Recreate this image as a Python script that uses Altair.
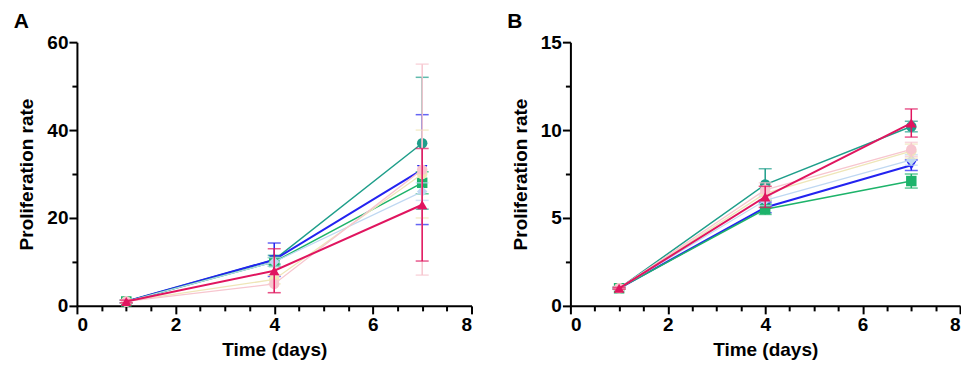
import altair as alt
import pandas as pd

days = [1, 4, 7]
series = ["Teal", "Blue", "Green", "LightBlue", "Yellow", "Peach", "Crimson"]
colors = ["#1E9E8A", "#2323F0", "#1DB36A", "#A9CBEF", "#E6D98C", "#F6B07E", "#E0155F"]
err_colors = ["#1E9E8A", "#2323F0", "#1DB36A", "#BFD8F2", "#EFE6B8", "#F7C6CF", "#E0155F"]
shapes = ["circle", "triangle-down", "square", "diamond", "circle", "circle", "triangle-up"]
widths = [1.5, 2, 1.5, 1.2, 1.3, 1.3, 2]

a_mean = {
    "Teal": [1.0, 10.5, 37.0],
    "Blue": [1.0, 10.5, 31.0],
    "Green": [1.0, 10.0, 28.0],
    "LightBlue": [1.0, 10.0, 26.0],
    "Yellow": [1.0, 6.0, 30.0],
    "Peach": [1.0, 5.0, 31.0],
    "Crimson": [1.0, 8.0, 23.0],
}
a_err = {
    "Teal": [0.3, 1.0, 15.0],
    "Blue": [0.3, 3.8, 12.5],
    "Green": [0.3, 1.0, 2.5],
    "LightBlue": [0.3, 1.0, 2.0],
    "Yellow": [0.3, 1.0, 10.0],
    "Peach": [0.3, 2.0, 24.0],
    "Crimson": [0.3, 5.0, 12.8],
}
b_mean = {
    "Teal": [1.0, 6.9, 10.2],
    "Blue": [1.0, 5.6, 8.0],
    "Green": [1.0, 5.5, 7.1],
    "LightBlue": [1.0, 6.0, 8.3],
    "Yellow": [1.0, 6.4, 8.8],
    "Peach": [1.0, 6.6, 8.9],
    "Crimson": [1.0, 6.2, 10.4],
}
b_err = {
    "Teal": [0.05, 0.9, 0.3],
    "Blue": [0.05, 0.3, 0.3],
    "Green": [0.05, 0.3, 0.4],
    "LightBlue": [0.05, 0.3, 0.3],
    "Yellow": [0.05, 0.4, 0.4],
    "Peach": [0.05, 0.4, 0.4],
    "Crimson": [0.05, 0.6, 0.8],
}

x_major = [0, 2, 4, 6, 8]
x_minor = [0.5, 1, 1.5, 2.5, 3, 3.5, 4.5, 5, 5.5, 6.5, 7, 7.5]
a_y_major = [0, 20, 40, 60]
a_y_minor = [10, 30, 50]
b_y_major = [0, 5, 10, 15]
b_y_minor = [2.5, 7.5, 12.5]


def make_df(means, errs):
    rows = []
    for i, s in enumerate(series):
        for d, m, e in zip(days, means[s], errs[s]):
            rows.append({"series": s, "order": i, "day": d, "mean": m,
                         "lo": m - e, "hi": m + e})
    return pd.DataFrame(rows)


FONT = "Liberation Sans"


def panel(df, ymax, y_major, y_minor, letter, w):
    xs = alt.Scale(domain=[0, 8], nice=False)
    ys = alt.Scale(domain=[0, ymax], nice=False)
    common = dict(ticks=True, tickColor="black", tickWidth=2, tickOpacity=1)
    xmaj = alt.Axis(values=x_major, title="Time (days)", tickSize=8, orient="bottom",
                    labelPadding=2, titlePadding=6, labelOverlap=False, **common)
    ymaj = alt.Axis(values=y_major, title="Proliferation rate", tickSize=8, orient="left",
                    labelPadding=1, titlePadding=10, labelOverlap=False, **common)
    xmin = alt.Axis(values=x_minor, title=None, labels=False, domain=False, tickSize=5,
                    orient="bottom", **common)
    ymin = alt.Axis(values=y_minor, title=None, labels=False, domain=False, tickSize=5,
                    orient="left", **common)
    color = alt.Color("series:N", scale=alt.Scale(domain=series, range=colors), legend=None)
    ecolor = alt.Color("series:N", scale=alt.Scale(domain=series, range=err_colors), legend=None)
    shape = alt.Shape("series:N", scale=alt.Scale(domain=series, range=shapes), legend=None)
    base = alt.Chart(df)
    X = lambda f: alt.X(f, scale=xs, axis=xmaj)
    Y = lambda f: alt.Y(f, scale=ys, axis=ymaj)
    layers = []
    for i, s in enumerate(series):
        sub = base.transform_filter(alt.datum.series == s)
        rule = sub.mark_rule(strokeWidth=1.5).encode(
            x=X("day:Q"), y=Y("lo:Q"), y2="hi:Q", color=ecolor)
        cap_hi = sub.mark_tick(orient="horizontal", size=13, thickness=1.5).encode(
            x=X("day:Q"), y=Y("hi:Q"), color=ecolor)
        cap_lo = sub.mark_tick(orient="horizontal", size=13, thickness=1.5).encode(
            x=X("day:Q"), y=Y("lo:Q"), color=ecolor)
        line = sub.mark_line(strokeWidth=widths[i]).encode(
            x=X("day:Q"), y=Y("mean:Q"), color=color)
        pts = sub.mark_point(filled=True, size=110, opacity=1).encode(
            x=X("day:Q"), y=Y("mean:Q"), color=color, shape=shape)
        layers += [rule, cap_hi, cap_lo, line, pts]
    main = alt.layer(*layers)
    minor = base.mark_point(opacity=0).encode(
        x=alt.X("day:Q", scale=xs, axis=xmin), y=alt.Y("mean:Q", scale=ys, axis=ymin))
    return alt.layer(minor, main).resolve_axis(x="independent", y="independent").properties(
        width=w, height=264,
        title=alt.TitleParams(letter, anchor="start", frame="bounds", fontSize=21,
                              fontWeight="bold", font=FONT, dx=-4, offset=1))


dfa = make_df(a_mean, a_err)
dfb = make_df(b_mean, b_err)

chart = alt.hconcat(
    panel(dfa, 60, a_y_major, a_y_minor, "A", 395),
    panel(dfb, 15, b_y_major, b_y_minor, "B", 390),
    spacing=34,
).resolve_scale(color="independent", shape="independent").configure_view(
    stroke=None
).configure_axis(
    grid=False, domainColor="black", domainWidth=2,
    labelFont=FONT, labelFontSize=19, labelFontWeight="bold", labelColor="black",
    titleFont=FONT, titleFontSize=19, titleFontWeight="bold", titleColor="black",
).properties(padding={"left": 5, "top": 3, "right": 0, "bottom": 0})

chart.save("out.html", embed_options={"renderer": "svg", "actions": False})
